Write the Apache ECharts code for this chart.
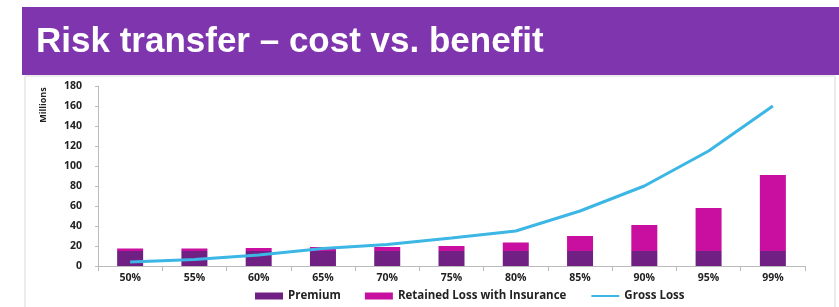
<!DOCTYPE html>
<html>
<head>
<meta charset="utf-8">
<script src="https://cdn.jsdelivr.net/npm/echarts@6/dist/echarts.min.js"></script>
<style>
  html, body { margin: 0; padding: 0; background: #fff; }
  #chart { width: 839px; height: 307px; }
</style>
</head>
<body>
<div id="chart"></div>
<script>
// risk levels on the x axis
var levels = ['50%', '55%', '60%', '65%', '70%', '75%', '80%', '85%', '90%', '95%', '99%'];
// values in millions
var premium = [15, 15, 15, 15, 15, 15, 15, 15, 15, 15, 15];
var retainedLoss = [2.5, 2.5, 3, 4, 4, 5, 8.5, 15, 26, 43, 76];
var grossLoss = [4, 6.5, 11, 17.5, 21.5, 28, 35, 55, 80, 115, 160];

var myChart = echarts.init(document.getElementById('chart'));

var tickFont = { fontFamily: 'Open Sans', fontWeight: 'bold', fontSize: 10.5, color: '#222' };

var option = {
  animation: false,
  graphic: [
    // frame under the banner
    { type: 'rect', shape: { x: 25, y: 76, width: 810, height: 240 },
      style: { fill: '#fff', stroke: '#d8d8d8', lineWidth: 1 }, z: -10 },
    // purple banner
    { type: 'rect', shape: { x: 22, y: 7, width: 817, height: 68 },
      style: { fill: '#7e35ad' }, z: -5 },
    { type: 'text', left: 36, top: 25,
      style: { text: 'Risk transfer \u2013 cost vs. benefit', fill: '#fff',
               font: 'bold 35px "Liberation Sans", Arial, sans-serif' } },
    { type: 'text', x: 43, y: 105, rotation: Math.PI / 2,
      style: { text: 'Millions', fill: '#222', align: 'center', verticalAlign: 'middle',
               font: 'bold 9px "Open Sans", sans-serif' } }
  ],
  legend: {
    bottom: 0,
    left: 250,
    itemWidth: 28,
    itemHeight: 7,
    itemGap: 24,
    textStyle: { fontFamily: 'Open Sans', fontWeight: 'bold', fontSize: 11.5, color: '#222' },
    data: [
      { name: 'Premium', icon: 'rect' },
      { name: 'Retained Loss with Insurance', icon: 'rect' },
      { name: 'Gross Loss', itemStyle: { opacity: 0 } }
    ]
  },
  grid: { left: 98, right: 34, top: 86, bottom: 41 },
  xAxis: {
    type: 'category',
    data: levels,
    axisLine: { lineStyle: { color: '#bbb' } },
    axisTick: { show: true, alignWithLabel: false, lineStyle: { color: '#bbb' } },
    axisLabel: Object.assign({ margin: 7 }, tickFont)
  },
  yAxis: {
    type: 'value',
    min: 0,
    max: 180,
    interval: 20,
    axisLine: { show: true, lineStyle: { color: '#bbb' } },
    axisTick: { show: true, length: 3, lineStyle: { color: '#bbb' } },
    splitLine: { show: false },
    axisLabel: Object.assign({ margin: 16 }, tickFont)
  },
  series: [
    {
      name: 'Premium',
      type: 'bar',
      stack: 'cost',
      barWidth: 26,
      itemStyle: { color: '#701f82' },
      data: premium
    },
    {
      name: 'Retained Loss with Insurance',
      type: 'bar',
      stack: 'cost',
      barWidth: 26,
      itemStyle: { color: '#c90f9f' },
      data: retainedLoss
    },
    {
      name: 'Gross Loss',
      type: 'line',
      symbol: 'none',
      lineStyle: { color: '#3cb6e4', width: 3 },
      itemStyle: { color: '#3cb6e4' },
      data: grossLoss
    }
  ]
};

myChart.setOption(option);
</script>
</body>
</html>
